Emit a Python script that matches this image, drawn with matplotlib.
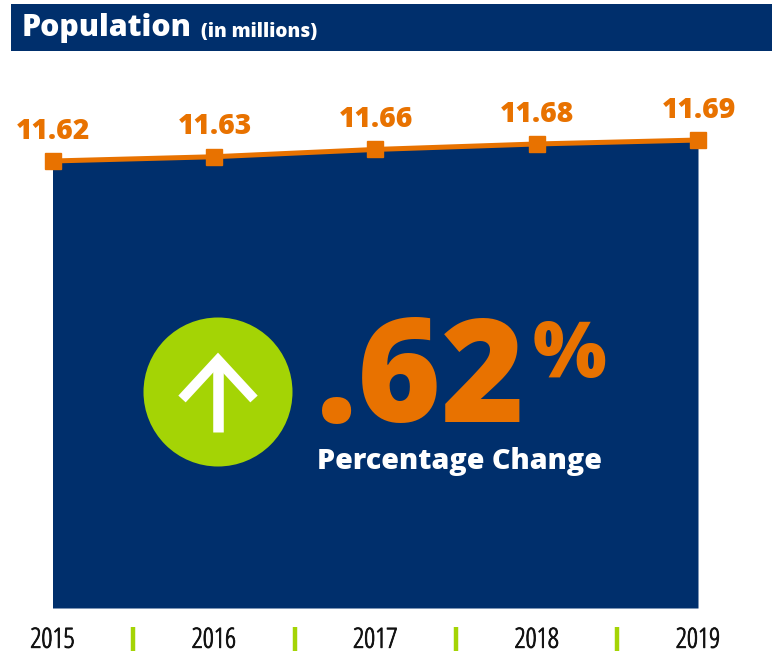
import matplotlib
matplotlib.use("Agg")
import matplotlib.pyplot as plt
import matplotlib.patheffects as pe
from matplotlib.font_manager import FontProperties
from matplotlib.patches import Rectangle, Circle
from matplotlib.transforms import blended_transform_factory

years = ["2015", "2016", "2017", "2018", "2019"]
population = [11.62, 11.634, 11.658, 11.676, 11.689]
title_main = "Population"
title_sub = "(in millions)"
change_value = ".62"
change_sign = "%"
change_label = "Percentage Change"

NAVY = "#002F6C"
ORANGE = "#E87200"
GREEN = "#A4D405"
W, H = 772, 653


def heavy(size):
    return FontProperties(family="Open Sans", weight=800, size=size)


fig = plt.figure(figsize=(W / 100, H / 100), dpi=100, facecolor="white")

bg = fig.add_axes([0, 0, 1, 1], zorder=0)
bg.set_xlim(0, W); bg.set_ylim(H, 0); bg.axis("off")

left, right, bottom, top = 52.5, 698, 608, 100
ax = fig.add_axes([left / W, 1 - bottom / H, (right - left) / W, (bottom - top) / H], zorder=1)
ax.patch.set_alpha(0)
px_per_unit = 304
ymin = population[0] - (bottom - 161) / px_per_unit
ymax = ymin + (bottom - top) / px_per_unit
xs = list(range(len(years)))
ax.set_xlim(0, len(years) - 1); ax.set_ylim(ymin, ymax)
for s in ax.spines.values():
    s.set_visible(False)
ax.set_yticks([])
ax.set_xticks(xs, years)
year_font = FontProperties(family="Open Sans", stretch="condensed", weight=300, size=20)
for t in ax.get_xticklabels():
    t.set_fontproperties(year_font)
    t.set_color("#111111")
    t.set_path_effects([pe.withStroke(linewidth=0.6, foreground="#111111")])
ax.tick_params(axis="x", length=0, pad=13.5)

ax.fill_between(xs, population, ymin, color=NAVY, lw=0, zorder=1)
ax.plot(xs, population, color=ORANGE, lw=3.6, marker="s", ms=11.5, mec=ORANGE,
        clip_on=False, zorder=3)
for x, v in zip(xs, population):
    ax.annotate(f"{v:.2f}", (x, v), xytext=(0.5, 11), textcoords="offset points",
                ha="center", va="bottom", color=ORANGE, fontproperties=heavy(20.3),
                annotation_clip=False)

tr = blended_transform_factory(ax.transData, bg.transData)
ax.vlines([x + 0.5 for x in xs[:-1]], 627, 651, transform=tr, color=GREEN, lw=3.2, clip_on=False)

bg.add_patch(Rectangle((11, 4), W - 11, 47, color=NAVY, lw=0))
bg.text(21.5, 28, title_main, color="white", fontproperties=heavy(21.8), va="center", ha="left")
bg.text(201, 31.5, title_sub, color="white", fontproperties=heavy(13.7), va="center", ha="left")

fg = fig.add_axes([0, 0, 1, 1], zorder=2)
fg.set_xlim(0, W); fg.set_ylim(H, 0); fg.axis("off")
fg.add_patch(Circle((218, 392), 74.5, color=GREEN, lw=0))
fg.plot([218, 218], [432, 362], color="white", lw=7.6, solid_capstyle="butt")
fg.plot([182, 218, 254], [399, 360, 399], color="white", lw=7.2, solid_capstyle="butt", solid_joinstyle="miter")
fg.text(316, 422, change_value, color=ORANGE, fontproperties=heavy(103), va="baseline", ha="left")
fg.text(533, 377, change_sign, color=ORANGE, fontproperties=heavy(56), va="baseline", ha="left")
fg.text(317, 461, change_label, color="white", fontproperties=heavy(20.6), va="center", ha="left")

fig.savefig("out.png", dpi=100, facecolor="white")
